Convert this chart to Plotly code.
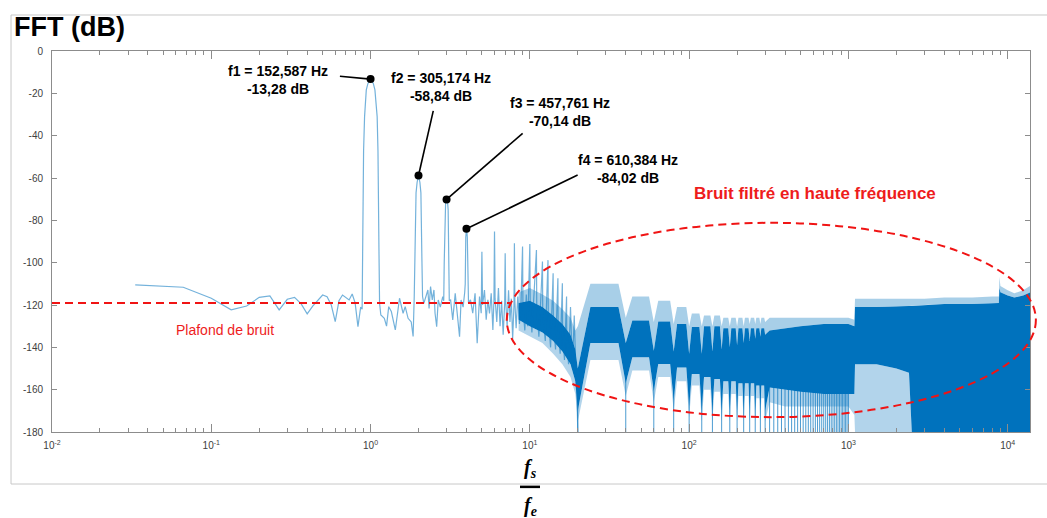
import plotly.graph_objects as go

# ---------------- data ----------------
# Low / mid frequency spectrum line (f_s/f_e , dB)
low_f = [0.0333, 0.0667, 0.1, 0.1333, 0.1667, 0.2, 0.2333, 0.2667, 0.3, 0.3333,
         0.3667, 0.4, 0.4333, 0.4667, 0.5, 0.5333, 0.5667, 0.6, 0.6333, 0.6667,
         0.7, 0.7333, 0.7667, 0.8, 0.8333, 0.8667,
         0.885, 0.891, 0.904, 0.917, 0.94, 0.963, 1.0, 1.04, 1.065, 1.1, 1.113, 1.129, 1.139,
         1.16, 1.22, 1.26, 1.3, 1.35, 1.43, 1.52, 1.6, 1.65, 1.72, 1.8, 1.85, 1.88,
         1.9, 1.93, 1.96, 2.0, 2.04, 2.07, 2.1, 2.12,
         2.16, 2.24, 2.29, 2.33, 2.38, 2.44, 2.5, 2.54, 2.6, 2.66, 2.74, 2.84, 2.88,
         2.9, 2.93, 2.96, 3.0, 3.04, 3.07, 3.1, 3.12,
         3.18, 3.28, 3.4, 3.5, 3.62, 3.7, 3.81, 3.9,
         3.93, 3.96, 3.98, 4.0, 4.02, 4.05, 4.08,
         4.12, 4.24, 4.38, 4.53, 4.67, 4.83, 4.95, 5.0, 5.05, 5.19,
         5.32, 5.45, 5.58, 5.72, 5.86, 5.95, 6.0, 6.05,
         6.2, 6.35, 6.5, 6.65, 6.8, 6.95, 7.0, 7.05, 7.2, 7.35,
         7.5, 7.65, 7.8, 7.95, 8.0, 8.05, 8.2, 8.4, 8.6, 8.8,
         9.0, 9.05, 9.3, 9.5, 9.7, 10.0, 10.05, 10.3, 10.6, 11.0,
         11.05, 11.4, 11.7, 12.0, 12.05, 12.5, 13.0, 13.05, 13.5, 14.0,
         14.05, 14.5, 15.0, 15.05, 15.5, 16.0, 16.05, 16.5, 17.0, 17.05,
         17.5, 18.0, 18.5, 19.0, 19.5, 19.8, 20.0]
low_db = [-110.5, -111.6, -116.8, -122.3, -120.5, -116.4, -115.7, -122.3, -117.3, -116.4,
          -119.5, -124.2, -120.5, -117.6, -115.3, -116.1, -120.0, -127.9, -118.0, -115.3,
          -116.5, -117.6, -114.8, -119.0, -130.2, -121.0,
          -122, -94, -47, -31, -18.4, -15.3, -13.28, -15.3, -18.4, -31, -47, -94, -119.2,
          -124.7, -126.3, -130, -120.8, -123.1, -131.8, -116.8, -123.9, -120.8, -126.3, -128, -134.9, -116,
          -98, -67, -62, -58.84, -62, -67, -98, -116,
          -119.2, -114.5, -112.9, -121.6, -111.3, -117.6, -112.9, -123.9, -130.2, -117.6, -121.0, -116, -118,
          -100, -75, -71, -70.14, -71, -75, -100, -118,
          -117.6, -127, -114.5, -123.9, -135, -117.6, -121, -114,
          -110, -88, -85, -84.02, -85, -88, -110,
          -119, -117.6, -123.9, -114.5, -138, -116, -123.9, -94.8, -120, -112.9,
          -127, -117.6, -124, -114.5, -131.8, -118, -85.3, -117,
          -128, -112, -130, -118, -134, -119, -95.6, -118, -130, -113,
          -128, -117, -136, -120, -90.8, -118, -131, -116, -129, -119,
          -92.4, -121, -132, -115, -130, -91.2, -120, -133, -117, -94,
          -122, -135, -118, -99.5, -124, -137, -98.8, -126, -140, -105,
          -128, -141, -107.4, -130, -143, -109.7, -132, -146, -116, -135,
          -148, -121, -150, -125, -155, -165, -180]

# Harmonic peaks and their labels
peak_f = [1, 2, 3, 4]
peak_db = [-13.28, -58.84, -70.14, -84.02]
peak_labels = ["<b>f1 = 152,587 Hz</b><br><b>-13,28 dB</b>",
               "<b>f2 = 305,174 Hz</b><br><b>-58,84 dB</b>",
               "<b>f3 = 457,761 Hz</b><br><b>-70,14 dB</b>",
               "<b>f4 = 610,384 Hz</b><br><b>-84,02 dB</b>"]
label_logf = [-0.581, 0.440, 1.189, 1.616]
label_db = [-13.9, -17.2, -28.7, -55.7]
tail_f = [0.642, 2.475, 9.01, 19.95]
tail_db = [-11.9, -28.3, -38.9, -58.6]

# Dense band lead-in (8.5 .. 19.3)
lead_f = [8.5, 10, 12, 14, 16, 18, 19.3]
lead_light_top = [-114, -112, -115, -118, -122, -126, -132]
lead_dark_top = [-119, -118, -121, -125, -129, -134, -141]
lead_dark_bot = [-127, -130, -133, -137, -142, -148, -156]
lead_light_bot = [-132, -135, -138, -143, -148, -154, -162]

# Comb notches (every 20) and arches between them (plateau from lo to hi shoulder)
notch_f = [20, 40, 60, 80, 100, 120, 140, 160, 180, 200, 220, 240, 260, 280, 300]
notch_light_top = [-130, -126, -128, -129, -130, -130, -130, -130, -130, -130, -130, -129, -129, -129, -128]
notch_dark_top = [-150, -138, -141.6, -142, -143, -143, -142, -141, -140, -139, -138, -137, -136, -135, -134]
notch_dark_bot = [-170, -157, -160.6, -165, -168, -170, -170, -170, -170, -170, -170, -170, -170, -170, -170]
notch_light_bot = [-175, -163, -166, -170, -173, -175, -175, -175, -175, -175, -175, -175, -175, -175, -175]
hump_lo_f = [24, 44, 64, 84, 104, 124, 144, 164, 184, 204, 224, 244, 264, 284]
hump_hi_f = [36, 56, 76, 96, 116, 136, 156, 176, 196, 216, 236, 256, 276, 296]
hump_light_top = [-110, -116, -118, -121, -124, -125, -125, -126, -126, -126, -126, -126, -126, -126]
hump_dark_top = [-121, -127.3, -127.8, -129, -130.4, -130, -130, -131, -131, -131, -131, -131, -131, -131]
hump_dark_bot = [-138, -144.7, -147.9, -149.5, -152.6, -154, -155, -156, -156, -157, -157, -157, -158, -158]
hump_light_bot = [-146, -151, -154, -156, -158, -160, -161, -162, -162, -163, -163, -163, -164, -164]

# High frequency envelopes
hf_f = [320, 400, 500, 700, 1000, 1090, 1100, 1500, 2000, 2400, 2500,
        3000, 4000, 6000, 8000, 8800, 8870, 9000, 10000, 11000, 12500, 13860]
hf_light_top = [-126, -126, -126, -126, -126, -127, -117, -117, -117, -117, -117,
                -117, -116.5, -116.5, -116, -116, -106.6, -111, -113, -114.5, -113, -111]
hf_dark_top = [-132, -131, -130, -129, -129, -130, -121, -121, -120.5, -120.5, -120.5,
               -120, -119.5, -119.5, -119, -119, -112, -114, -115.5, -116.5, -115.5, -114]
hf_dark_bot = [-159, -160, -161, -162, -162, -162, -148, -148, -150, -152, -180,
               -180, -180, -180, -180, -180, -180, -180, -180, -180, -180, -180]
hf_light_bot = [-166, -168, -168, -168, -168, -172, -180, -180, -180, -180, -180,
                -180, -180, -180, -180, -180, -180, -180, -180, -180, -180, -180]

# Notch lines reaching the floor
notch_line_f = [20, 40, 60, 80, 100, 120, 140, 160, 180, 200,
                220, 240, 260, 280, 300, 320, 340, 360, 380, 400,
                420, 440, 460, 480, 500, 520, 540, 560, 580, 600,
                620, 640, 660, 680, 700, 720, 740, 760, 780, 800,
                820, 840, 860, 880, 900, 920, 940, 960, 980, 1000]

y_tickvals = [0, -20, -40, -60, -80, -100, -120, -140, -160, -180]
y_ticktext = ["0", "-20", "-40", "-60", "-80", "-100", "-120", "-140", "-160", "-180"]
x_tickvals = [0.01, 0.1, 1, 10, 100, 1000, 10000]
x_ticktext = ["10<sup>-2</sup>", "10<sup>-1</sup>", "10<sup>0</sup>", "10<sup>1</sup>",
              "10<sup>2</sup>", "10<sup>3</sup>", "10<sup>4</sup>"]

noise_floor_db = -119

# ---------------- build ----------------
BLUE = "#0072BD"


def arches(nv, hv):
    out = []
    for i in range(len(nv)):
        out.append(nv[i])
        if i < len(hv):
            out += [hv[i], hv[i]]
    return out


arch_f = []
for i in range(len(notch_f)):
    arch_f.append(notch_f[i])
    if i < len(hump_lo_f):
        arch_f += [hump_lo_f[i], hump_hi_f[i]]

band_f = lead_f + arch_f + hf_f
light_top = lead_light_top + arches(notch_light_top, hump_light_top) + hf_light_top
light_bot = lead_light_bot + arches(notch_light_bot, hump_light_bot) + hf_light_bot
dark_top = lead_dark_top + arches(notch_dark_top, hump_dark_top) + hf_dark_top
dark_bot = lead_dark_bot + arches(notch_dark_bot, hump_dark_bot) + hf_dark_bot

fig = go.Figure()


def band(top, bot, color):
    fig.add_trace(go.Scatter(x=band_f + band_f[::-1], y=top + bot[::-1],
                             fill="toself", fillcolor=color,
                             line=dict(width=0), mode="lines", hoverinfo="skip"))


band(light_top, dark_top, "rgba(0,114,189,0.34)")   # light spikes above the core
band(dark_bot, light_bot, "rgba(0,114,189,0.30)")   # light grass below the core

nx, ny = [], []
for f in notch_line_f:
    nx += [f, f, None]
    ny += [-150, -180, None]
fig.add_trace(go.Scatter(x=nx, y=ny, mode="lines",
                         line=dict(color="rgba(0,114,189,0.7)", width=1), hoverinfo="skip"))

band(dark_top, dark_bot, BLUE)

fig.add_trace(go.Scatter(x=low_f, y=low_db, mode="lines",
                         line=dict(color="rgba(0,114,189,0.55)", width=1.2)))

# leader lines
lx, ly = [], []
for i in range(len(peak_f)):
    lx += [tail_f[i], peak_f[i], None]
    ly += [tail_db[i], peak_db[i], None]
fig.add_trace(go.Scatter(x=lx, y=ly, mode="lines", line=dict(color="black", width=1.6),
                         hoverinfo="skip"))
fig.add_trace(go.Scatter(x=peak_f, y=peak_db, mode="markers",
                         marker=dict(color="black", size=8)))

# noise floor dashed line
fig.add_shape(type="line", xref="paper", yref="y", x0=0, x1=0.469,
              y0=noise_floor_db, y1=noise_floor_db,
              line=dict(color="#f01414", width=2, dash="8px,5px"))
# ellipse
fig.add_shape(type="circle", xref="paper", yref="paper",
              x0=0.465, x1=1.006, y0=0.039, y1=0.549,
              line=dict(color="#f01414", width=2, dash="8px,5px"))
# outer frame
fig.add_shape(type="rect", xref="paper", yref="paper",
              x0=-0.0419, x1=1.03, y0=-0.1365, y1=1.0945,
              line=dict(color="#c8c8c8", width=1), layer="below")
# fraction bar
fig.add_shape(type="line", xref="paper", yref="paper",
              x0=0.4785, x1=0.499, y0=-0.144, y1=-0.144,
              line=dict(color="black", width=2.5))

for i in range(len(peak_f)):
    fig.add_annotation(x=label_logf[i], y=label_db[i], xref="x", yref="y",
                       text=peak_labels[i], showarrow=False, align="center",
                       font=dict(family="Liberation Sans", size=14, color="black"))

fig.add_annotation(x=2.790, y=-67.1, xref="x", yref="y", showarrow=False,
                   text="<b>Bruit filtré en haute fréquence</b>",
                   font=dict(family="Liberation Sans", size=17, color="#ee1c1c"))
fig.add_annotation(x=-0.914, y=-131.8, xref="x", yref="y", showarrow=False,
                   text="Plafond de bruit",
                   font=dict(family="Liberation Sans", size=14, color="#ee1c1c"))
fig.add_annotation(x=-0.0409, y=1.063, xref="paper", yref="paper", showarrow=False,
                   xanchor="left", yanchor="middle", text="<b>FFT (dB)</b>",
                   font=dict(family="Liberation Sans", size=27, color="black"))
fig.add_annotation(x=0.4888, y=-0.097, xref="paper", yref="paper", showarrow=False,
                   xanchor="center", yanchor="middle", text="<b><i>f<sub>s</sub></i></b>",
                   font=dict(family="Liberation Serif", size=20, color="black"))
fig.add_annotation(x=0.4888, y=-0.196, xref="paper", yref="paper", showarrow=False,
                   xanchor="center", yanchor="middle", text="<b><i>f<sub>e</sub></i></b>",
                   font=dict(family="Liberation Serif", size=20, color="black"))

minor_vals = [m * 10 ** e for e in range(-2, 5) for m in range(2, 10) if m * 10 ** e < 14000]

AX = "#8c8c8c"
fig.update_xaxes(type="log", range=[-2, 4.14], tickvals=x_tickvals, ticktext=x_ticktext,
                 ticks="inside", ticklen=8, tickcolor=AX, showline=True, linecolor=AX,
                 mirror="allticks", showgrid=False, zeroline=False, ticklabelstandoff=4,
                 tickfont=dict(family="Liberation Sans", size=10, color="#404040"),
                 minor=dict(ticks="inside", ticklen=4, tickcolor=AX, tickvals=minor_vals,
                            showgrid=False))
fig.update_yaxes(range=[-180, 0], tickvals=y_tickvals, ticktext=y_ticktext,
                 ticks="inside", ticklen=5, tickcolor=AX, showline=True, linecolor=AX,
                 mirror="allticks", showgrid=False, zeroline=False, ticklabelstandoff=6,
                 tickfont=dict(family="Liberation Sans", size=10, color="#404040"))

fig.update_layout(width=1047, height=518, margin=dict(l=52, r=17, t=51, b=86),
                  paper_bgcolor="white", plot_bgcolor="white", showlegend=False)

fig.write_html("out.html", config={"displayModeBar": False},
               post_script="document.body.style.margin='0px';document.body.style.overflow='hidden';")
